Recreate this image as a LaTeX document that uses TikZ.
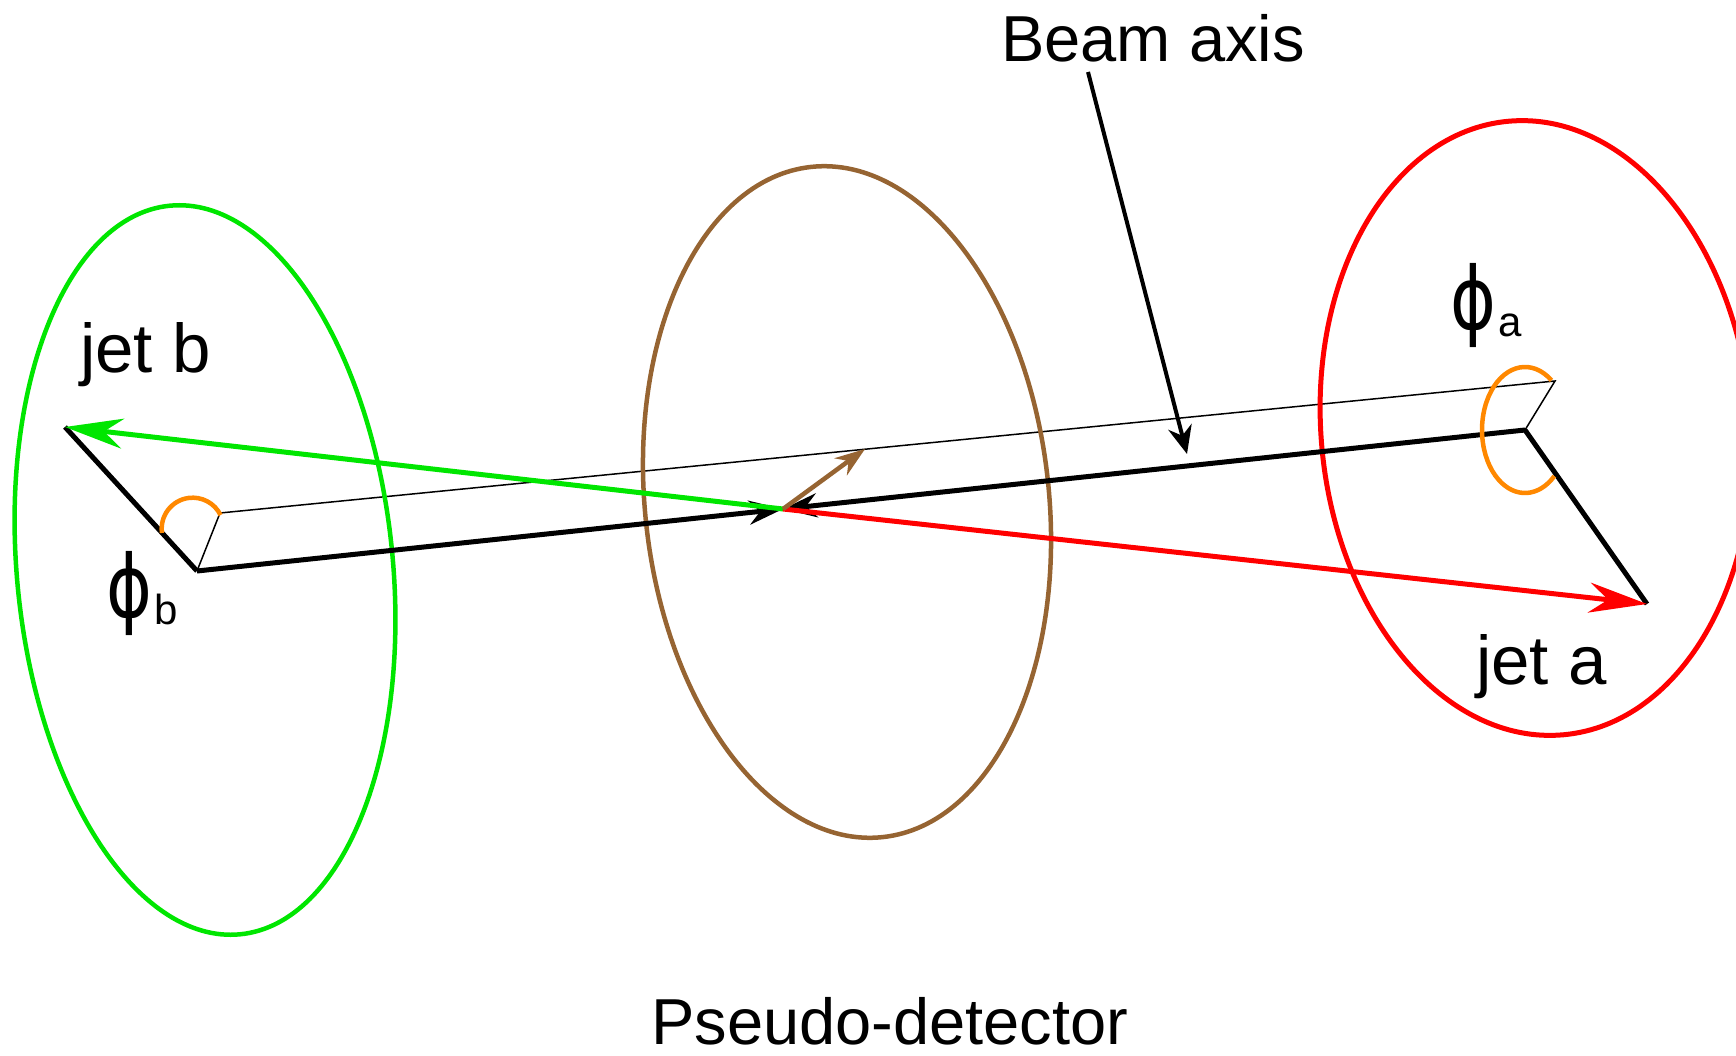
\documentclass[tikz,border=0pt]{standalone}
\usepackage{fontspec}
\setmainfont{Liberation Sans}
\newfontfamily\phifont{DejaVu Sans}
\usetikzlibrary{arrows.meta}
\definecolor{jetgreen}{RGB}{0,230,0}
\definecolor{jetred}{RGB}{255,0,0}
\definecolor{detbrown}{RGB}{150,100,50}
\definecolor{phiorange}{RGB}{255,136,0}
\tikzset{
 lbl/.style={anchor=base west,inner sep=0pt,font=\fontsize{65}{78}\selectfont},
 jetlbl/.style={lbl,font=\fontsize{69}{80}\selectfont},
 jetarrow/.style={line width=5pt,-{Stealth[length=58pt,width=30pt]}},
 beamhalf/.style={line width=5pt,-{Stealth[length=34pt,width=24pt]}},
 ring/.style={line width=4.5pt},
 phiarc/.style={line width=4.5pt,phiorange},
}
\newcommand{\phisub}[1]{\scalebox{0.8}[1]{\phifont\fontsize{87}{87}\selectfont ϕ}\hspace{2pt}\raisebox{-7pt}{\fontsize{42}{42}\selectfont #1}}
\begin{document}
\begin{tikzpicture}[x=1pt,y=1pt]
 \useasboundingbox (0,0) rectangle (1736,-1056);
 \clip (0,0) rectangle (1736,-1056);
 %% key points of the event
 \coordinate (O) at (783,-509);
 \coordinate (jb) at (65,-427);
 \coordinate (ja) at (1647,-604);
 \coordinate (bl) at (197,-571);
 \coordinate (br) at (1525,-430);
 \coordinate (tl) at (220,-513);
 \coordinate (tr) at (1555,-381);
 \coordinate (mom) at (865,-449);
 \coordinate (beamfoot) at (1088,-72);
 \coordinate (beamtip) at (1187,-454);
 %% labels
 \node[lbl] (beam) at (1001,-62) {Beam axis};
 \node[lbl] (det) at (651,-1044) {Pseudo-detector};
 \node[jetlbl] (jetb) at (80,-372) {jet b};
 \node[jetlbl] (jeta) at (1476,-684) {jet a};
 \node[lbl] (phib) at (106,-617) {\phisub{b}};
 \node[lbl] (phia) at (1450,-330) {\phisub{a}};
 %% thin upper edge of the plane
 \draw[line width=1.5pt] (bl) -- (tl) -- (tr) -- (br);
 %% detector rings
 \draw[ring,jetgreen] (205,-570) ellipse[x radius=188,y radius=366,rotate=5.5];
 \draw[ring,detbrown] (847,-502) ellipse[x radius=202,y radius=337,rotate=6.1];
 \draw[ring,jetred,line width=5pt] (1536,-428) ellipse[x radius=215,y radius=308,rotate=5.1];
 %% beam axis, both halves pointing at the vertex
 \draw[beamhalf] (bl) -- (O);
 \draw[beamhalf] (br) -- (O);
 \draw[line width=5pt] (jb) -- (bl);
 \draw[line width=5pt] (br) -- (ja);
 %% jets
 \draw[jetarrow,jetgreen] (O) -- (jb);
 \draw[jetarrow,jetred] (O) -- (ja);
 \draw[line width=4.5pt,detbrown,-{Stealth[length=30pt,width=21pt]}] (O) -- (mom);
 %% azimuthal angles
 \draw[phiarc] (162,-533) arc[start angle=188,end angle=26,radius=31];
 \draw[phiarc] (br) ++(52:43 and 63) arc[start angle=52,end angle=313,x radius=43,y radius=63];
 %% pointer to the beam
 \draw[line width=4pt,-{Stealth[length=28pt,width=24pt]}] (beamfoot) -- (beamtip);
\end{tikzpicture}
\end{document}
